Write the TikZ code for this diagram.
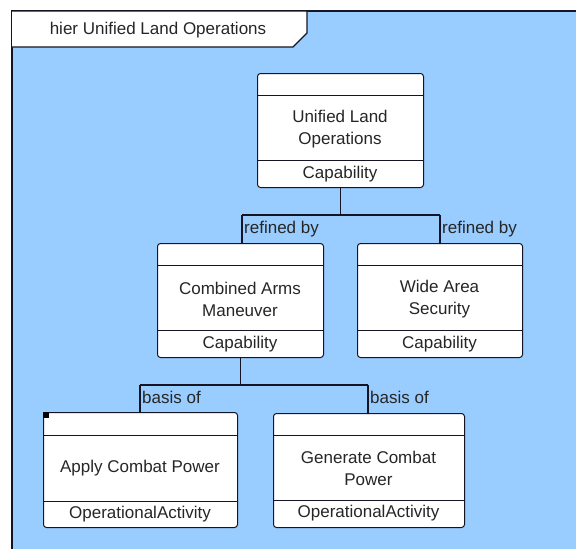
\documentclass[tikz,border=0pt]{standalone}
\usepackage{fontspec}
\setmainfont{Liberation Sans}
\definecolor{diagblue}{RGB}{153,204,255}
\definecolor{edge}{RGB}{20,20,35}
\begin{document}
\begin{tikzpicture}[x=1pt,y=-1pt,
  box/.style={draw=edge, fill=white, rounded corners=3pt, line width=1pt, inner sep=0pt, anchor=north west},
  sep/.style={draw=edge, line width=1pt},
  conn/.style={draw=edge, line width=1.1pt},
  txt/.style={font=\fontsize{17}{22}\selectfont, align=center, inner sep=0pt, text=black!85},
  lbl/.style={font=\fontsize{17}{22}\selectfont, inner sep=0pt, anchor=base west, text=black!85}]
\useasboundingbox (0,0) rectangle (576,549);
\fill[white] (0,0) rectangle (576,549);
% frame
\fill[diagblue] (12,11) rectangle (576,549);
\draw[edge, line width=2.5pt] (12,549) -- (12,11) -- (576,11);
% tab
\draw[edge, line width=1.3pt, fill=white] (12,11) -- (307,11) -- (307,33) -- (293,47) -- (12,47);
\node[txt] (title) at (158,30) {hier Unified Land Operations};

% boxes
\node[box, minimum width=166pt, minimum height=114pt] (ulo) at (257,73) {};
\node[box, minimum width=166pt, minimum height=114pt] (cam) at (157,243) {};
\node[box, minimum width=165pt, minimum height=114pt] (was) at (357,243) {};
\node[box, minimum width=194pt, minimum height=115pt] (acp) at (43,412) {};
\node[box, minimum width=191pt, minimum height=114pt] (gcp) at (273,413) {};

% separators
\draw[sep] (257,95) -- (423,95);  \draw[sep] (257,160) -- (423,160);
\draw[sep] (157,265) -- (323,265); \draw[sep] (157,330) -- (323,330);
\draw[sep] (357,265) -- (522,265); \draw[sep] (357,330) -- (522,330);
\draw[sep] (43,435) -- (237,435);  \draw[sep] (43,501) -- (237,501);
\draw[sep] (273,435) -- (464,435); \draw[sep] (273,500) -- (464,500);
\fill[black] (43,412) rectangle (49,418);

% texts
\node[txt] (ulot) at (340,129) {Unified Land\\Operations};
\node[txt] (uloc) at (340,174) {Capability};
\node[txt] (camt) at (240,299) {Combined Arms\\Maneuver};
\node[txt] (camc) at (240,344) {Capability};
\node[txt] (wast) at (439.5,299) {Wide Area\\Security};
\node[txt] (wasc) at (439.5,344) {Capability};
\node[txt] (acpt) at (140,468) {Apply Combat Power};
\node[txt] (acpc) at (140,514) {OperationalActivity};
\node[txt] (gcpt) at (368.5,468) {Generate Combat\\Power};
\node[txt] (gcpc) at (368.5,513) {OperationalActivity};

% connectors
\coordinate (jl1) at (242,215);
\coordinate (jr1) at (440,215);
\draw[conn] (ulo.south) -- (ulo.south |- jl1);
\draw[conn] (jl1) -- (jr1);
\draw[conn] (jl1) -- (jl1 |- cam.north);
\draw[conn] (jr1) -- (jr1 |- was.north);
\node[lbl] (r1) at (244,233) {refined by};
\node[lbl] (r2) at (442,233) {refined by};

\coordinate (jl2) at (140,385);
\coordinate (jr2) at (368,385);
\draw[conn] (cam.south) -- (cam.south |- jl2);
\draw[conn] (jl2) -- (jr2);
\draw[conn] (jl2) -- (jl2 |- acp.north);
\draw[conn] (jr2) -- (jr2 |- gcp.north);
\node[lbl] (b1) at (142,403) {basis of};
\node[lbl] (b2) at (370,403) {basis of};
\end{tikzpicture}
\end{document}
